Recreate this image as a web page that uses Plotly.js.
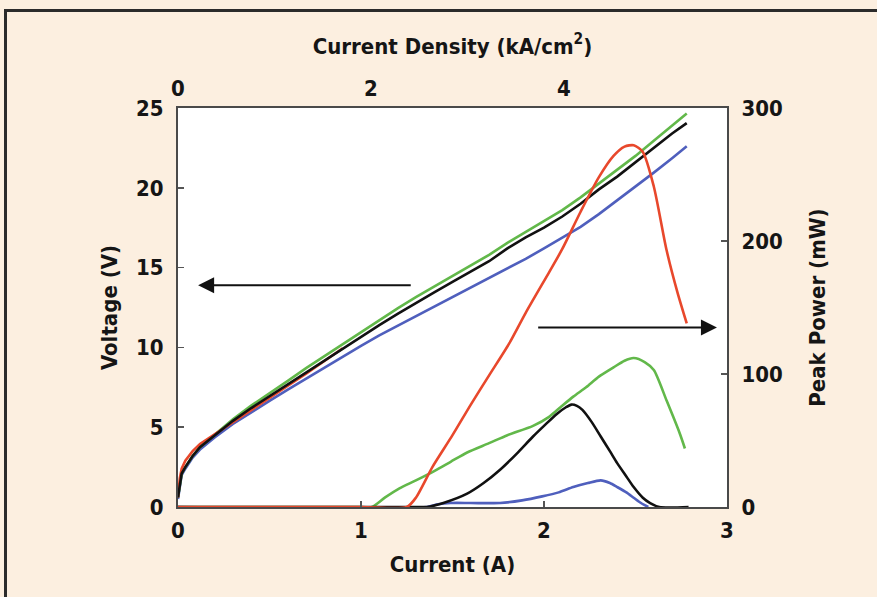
<!DOCTYPE html>
<html>
<head>
<meta charset="utf-8">
<script src="https://cdn.plot.ly/plotly-3.0.1.min.js"></script>
<style>
  html, body { margin: 0; padding: 0; overflow: hidden; background: #fcefe0; }
  #wrap { position: relative; width: 877px; height: 597px; }
  #chart { width: 877px; height: 597px; }
  #frame { position: absolute; left: 4px; top: 9px; width: 900px; height: 620px;
           border: 3px solid #2b2b2b; pointer-events: none; box-sizing: border-box; }
</style>
</head>
<body>
<div id="wrap"><div id="chart"></div><div id="frame"></div></div>
<script>
// ---- Data ----
const currentV = [0, 0.01, 0.02, 0.04, 0.08, 0.12, 0.2, 0.3, 0.4, 0.5, 0.6, 0.7, 0.8, 0.9, 1.0,
                  1.1, 1.2, 1.3, 1.4, 1.5, 1.6, 1.7, 1.8, 1.9, 2.0, 2.1, 2.2, 2.3, 2.4, 2.5, 2.6, 2.7, 2.78];
const voltageGreen = [0.6, 1.5, 2.1, 2.5, 3.2, 3.75, 4.55, 5.5, 6.35, 7.1, 7.9, 8.7, 9.45, 10.25, 11.0,
                      11.7, 12.45, 13.15, 13.8, 14.45, 15.1, 15.8, 16.55, 17.25, 17.9, 18.6, 19.4, 20.25, 21.1, 22.0, 22.95, 23.9, 24.65];
const voltageBlack = [0.6, 1.5, 2.1, 2.5, 3.2, 3.75, 4.5, 5.4, 6.2, 6.95, 7.7, 8.45, 9.2, 9.95, 10.7,
                      11.4, 12.1, 12.8, 13.45, 14.1, 14.75, 15.4, 16.2, 16.9, 17.5, 18.2, 19.0, 19.9, 20.7, 21.6, 22.45, 23.4, 24.05];
const voltageBlue = [0.5, 1.4, 2.0, 2.4, 3.1, 3.6, 4.35, 5.2, 5.95, 6.65, 7.35, 8.05, 8.75, 9.45, 10.1,
                     10.75, 11.35, 11.95, 12.5, 13.1, 13.7, 14.3, 14.9, 15.55, 16.2, 16.85, 17.55, 18.35, 19.2, 20.05, 20.95, 21.85, 22.6];
// red voltage is only visible at the start; elsewhere it lies under the black curve
const currentRedV = [0, 0.01, 0.02, 0.04, 0.08, 0.12, 0.2, 0.3, 0.4, 0.5, 0.6, 0.7, 0.8, 0.9];
const voltageRed  = [0.6, 1.8, 2.4, 2.9, 3.5, 3.95, 4.55, 5.3, 6.05, 6.8, 7.55, 8.35, 9.15, 9.95];

const currentRedP = [0, 1.0, 1.25, 1.3, 1.39, 1.5, 1.6, 1.7, 1.81, 1.9, 2.03, 2.1, 2.2, 2.3, 2.38, 2.44, 2.49, 2.54, 2.6, 2.67, 2.73, 2.78];
const powerRed    = [0, 0, 0, 7, 30, 54, 77, 99, 123, 146, 177, 194, 222, 248, 264, 271, 272, 267, 241, 193, 161, 138];

const currentGreenP = [0, 1.0, 1.06, 1.13, 1.21, 1.3, 1.4, 1.49, 1.58, 1.7, 1.8, 1.94, 2.03, 2.09, 2.16, 2.23, 2.3, 2.38, 2.44, 2.49, 2.55, 2.6, 2.67, 2.74, 2.77];
const powerGreen    = [0, 0, 0, 7, 14, 20, 27, 34, 41, 48, 54, 61, 68, 75, 83, 90, 98, 105, 110, 112, 109, 103, 80, 56, 44];

const currentBlackP = [0, 1.3, 1.36, 1.45, 1.58, 1.67, 1.76, 1.85, 1.94, 2.0, 2.07, 2.12, 2.15, 2.18, 2.21, 2.26, 2.31, 2.36, 2.4, 2.45, 2.49, 2.54, 2.58, 2.63, 2.79];
const powerBlack    = [0, 0, 0, 3, 10, 18, 28, 40, 53, 61, 70, 75, 77, 76, 73, 64, 53, 42, 33, 23, 15, 7, 3, 0, 0];

const currentBlueP = [0, 1.36, 1.42, 1.49, 1.6, 1.76, 1.88, 1.99, 2.08, 2.16, 2.24, 2.31, 2.36, 2.4, 2.45, 2.49, 2.53, 2.57];
const powerBlue    = [0, 0, 2, 3, 3, 3, 5, 8, 11, 15, 18, 20, 18, 15, 11, 7, 3, 0];

const bottomTicks = [0, 1, 2, 3];
const topTicks = [0, 2, 4];
const leftTicks = [0, 5, 10, 15, 20, 25];
const rightTicks = [0, 100, 200, 300];

// ---- Styles ----
const GREEN = '#62b84a', BLACK = '#111111', BLUE = '#4f5fbd', RED = '#e8482c';
const FONT = 'DejaVu Sans Condensed, Liberation Sans Narrow, Arial Narrow, sans-serif';
const LW = 2.6;

function tr(x, y, color, yaxis, name, smooth) {
  return { x: x, y: y, type: 'scatter', mode: 'lines', name: name, yaxis: yaxis,
           line: { color: color, width: LW, shape: smooth ? 'spline' : 'linear', smoothing: 0.7 },
           hoverinfo: 'skip' };
}

const traces = [
  tr(currentV, voltageBlue, BLUE, 'y', 'Voltage blue'),
  tr(currentV, voltageGreen, GREEN, 'y', 'Voltage green'),
  tr(currentRedV, voltageRed, RED, 'y', 'Voltage red'),
  tr(currentV, voltageBlack, BLACK, 'y', 'Voltage black'),
  tr(currentBlueP, powerBlue, BLUE, 'y2', 'Power blue', true),
  tr(currentGreenP, powerGreen, GREEN, 'y2', 'Power green', true),
  tr(currentBlackP, powerBlack, BLACK, 'y2', 'Power black', true),
  tr(currentRedP, powerRed, RED, 'y2', 'Power red', true),
];
// invisible trace to activate top axis
traces.push({ x: [0, 5.69], y: [0, 0], xaxis: 'x2', yaxis: 'y', mode: 'lines',
              line: { width: 0, color: 'rgba(0,0,0,0)' }, hoverinfo: 'skip', showlegend: false });

const tickFont = { family: FONT, size: 22, color: '#151515', weight: 'bold' };
const titleFont = { family: FONT, size: 22, color: '#151515', weight: 'bold' };
const axisCommon = {
  showgrid: false, zeroline: false, showline: true, linecolor: '#4a4a4a', linewidth: 2,
  ticks: 'inside', ticklen: 6, tickwidth: 1.5, tickcolor: '#555', tickfont: tickFont,
  ticklabelstandoff: 8
};

const layout = {
  width: 877, height: 597,
  paper_bgcolor: '#fcefe0', plot_bgcolor: '#ffffff',
  margin: { l: 178, r: 150, t: 108, b: 90 },
  showlegend: false,
  xaxis: Object.assign({}, axisCommon, {
    range: [0, 3], tickvals: bottomTicks, ticktext: bottomTicks.map(String),
    mirror: true, ticklabelstandoff: 3,
    title: { text: 'Current (A)', font: titleFont, standoff: 14 }
  }),
  xaxis2: Object.assign({}, axisCommon, {
    range: [0, 5.69], overlaying: 'x', side: 'top', anchor: 'y',
    tickvals: topTicks, ticktext: topTicks.map(String), ticks: '', ticklabelstandoff: 1,
    title: { text: 'Current Density (kA/cm<sup>2</sup>)', font: titleFont, standoff: 16 }
  }),
  yaxis: Object.assign({}, axisCommon, {
    range: [0, 25], tickvals: leftTicks, ticktext: leftTicks.map(String),
    title: { text: 'Voltage (V)', font: titleFont, standoff: 12 }
  }),
  yaxis2: Object.assign({}, axisCommon, {
    range: [0, 300], overlaying: 'y', side: 'right', anchor: 'x',
    tickvals: rightTicks, ticktext: rightTicks.map(String),
    title: { text: 'Peak Power (mW)', font: titleFont, standoff: 28 }
  }),
  annotations: [
    { x: 0.11, y: 13.9, ax: 1.28, ay: 13.9, xref: 'x', yref: 'y', axref: 'x', ayref: 'y',
      showarrow: true, arrowhead: 2, arrowsize: 1.6, arrowwidth: 2, arrowcolor: '#111', text: '' },
    { x: 2.945, y: 11.25, ax: 1.96, ay: 11.25, xref: 'x', yref: 'y', axref: 'x', ayref: 'y',
      showarrow: true, arrowhead: 2, arrowsize: 1.6, arrowwidth: 2, arrowcolor: '#111', text: '' }
  ]
};

Plotly.newPlot('chart', traces, layout, { staticPlot: true, displayModeBar: false });
</script>
</body>
</html>
